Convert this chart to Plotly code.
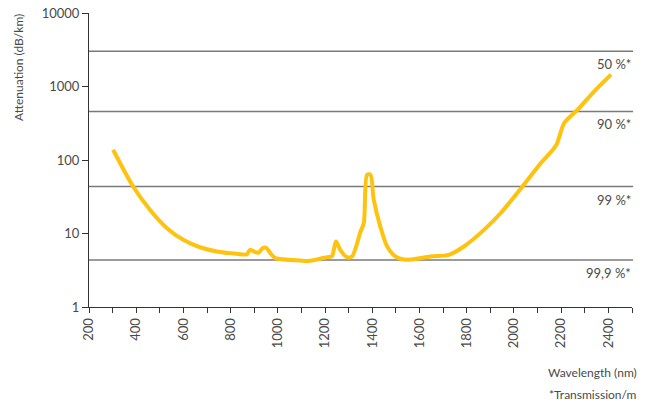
import math
import plotly.graph_objects as go

wavelength = [302, 387, 458, 529, 599, 670, 741, 826, 868, 882, 903, 918, 935, 950, 970, 989,
              1095, 1137, 1208, 1229, 1246, 1264, 1293, 1314, 1350, 1364, 1378, 1392, 1406,
              1434, 1463, 1498, 1548, 1647, 1724, 1788, 1873, 1944, 2036, 2114, 2178, 2213,
              2270, 2340, 2411]
attenuation = [138, 43.6, 21, 11.9, 8.2, 6.5, 5.7, 5.3, 5.2, 6.0, 5.6, 5.5, 6.3, 6.4, 5.3, 4.62,
               4.29, 4.25, 4.77, 4.9, 7.8, 6.0, 4.77, 4.87, 10.6, 13.9, 63, 63, 28.8,
               12.4, 6.65, 4.87, 4.39, 4.87, 5.13, 6.65, 11.2, 19, 43.6, 91, 157, 319,
               484, 861, 1452]

transmission_levels = [3010, 457.6, 43.6, 4.345]
transmission_labels = ["50 %*", "90 %*", "99 %*", "99,9 %*"]

x_tickvals = list(range(200, 2501, 100))
x_ticktext = [str(v) if v % 200 == 0 else "" for v in x_tickvals]
y_tickvals = [1, 10, 100, 1000, 10000]
y_ticktext = ["1", "10", "100", "1000", "10000"]

FONT = "Lato"
TXT = "#4a4a4a"

fig = go.Figure()
fig.add_trace(go.Scatter(
    x=wavelength, y=attenuation, mode="lines",
    line=dict(color="#FFC20E", width=4, shape="spline", smoothing=0.8),
    hoverinfo="skip", showlegend=False,
))

for lvl, lab in zip(transmission_levels, transmission_labels):
    fig.add_shape(type="line", xref="paper", x0=0, x1=1.002, yref="y", y0=lvl, y1=lvl,
                  line=dict(color="#7a7a7a", width=1.5), layer="below")
    fig.add_annotation(xref="paper", x=1.002, yref="y", y=math.log10(lvl), text=lab,
                       showarrow=False, xanchor="right", yanchor="top", yshift=-3,
                       font=dict(family=FONT, size=13, color=TXT))

fig.add_annotation(xref="paper", yref="paper", x=-0.131, y=1.005, text="Attenuation (dB/km)",
                   textangle=-90, showarrow=False, xanchor="center", yanchor="top",
                   font=dict(family=FONT, size=12, color=TXT))
fig.add_annotation(xref="paper", yref="paper", x=1.013, y=-0.224, text="Wavelength (nm)",
                   showarrow=False, xanchor="right", yanchor="middle",
                   font=dict(family=FONT, size=12, color=TXT))
fig.add_annotation(xref="paper", yref="paper", x=1.013, y=-0.296, text="*Transmission/m",
                   showarrow=False, xanchor="right", yanchor="middle",
                   font=dict(family=FONT, size=12, color=TXT))

fig.update_layout(
    width=649, height=403,
    margin=dict(l=89, r=17, t=13, b=96),
    paper_bgcolor="white", plot_bgcolor="white",
    font=dict(family=FONT, size=13, color=TXT),
    xaxis=dict(range=[200, 2500], tickvals=x_tickvals, ticktext=x_ticktext, tickangle=-90,
               ticks="outside", ticklen=5, tickcolor="#333", showgrid=False, zeroline=False,
               showline=True, linecolor="#333", linewidth=1, automargin=False,
               tickfont=dict(family=FONT, size=13, color=TXT)),
    yaxis=dict(type="log", range=[0, 4], tickvals=y_tickvals, ticktext=y_ticktext,
               ticks="outside", ticklen=6, tickcolor="#333", showgrid=False, zeroline=False,
               showline=True, linecolor="#333", linewidth=1, automargin=False,
               ticklabeloverflow="allow",
               tickfont=dict(family=FONT, size=13, color=TXT)),
)

# remove the browser's default 8px body margin so the figure fills the window exactly
fig.write_html("out.html", config={"displayModeBar": False},
               post_script="document.body.style.margin='0px';")
